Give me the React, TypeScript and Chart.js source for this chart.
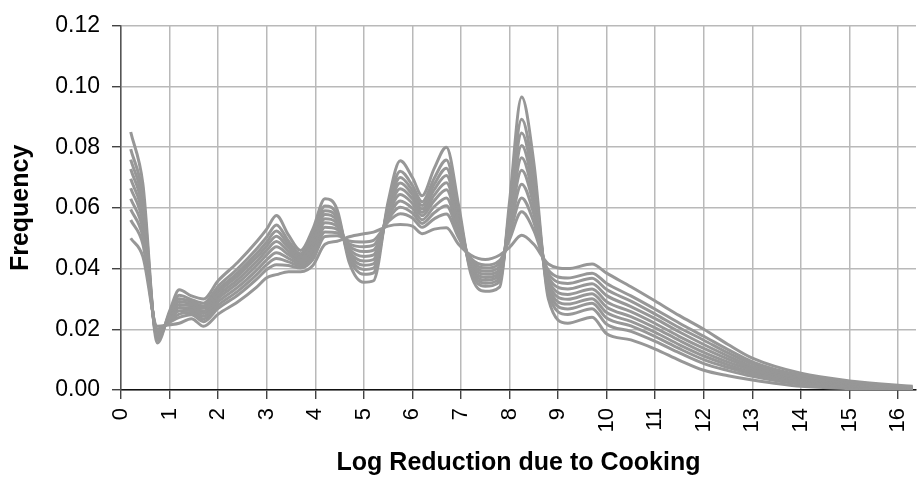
import React, { useEffect, useRef } from 'react';
import { Chart, registerables } from 'chart.js';

Chart.register(...registerables);

// Log reduction values (x positions of the sampled points)
const LOG_REDUCTION = [
  0.2, 0.45, 0.75, 1.0, 1.2, 1.45, 1.7, 2.0, 2.4, 2.8,
  3.0, 3.2, 3.45, 3.7, 3.95, 4.2, 4.45, 4.7, 5.0, 5.2,
  5.5, 5.75, 6.0, 6.2, 6.45, 6.7, 6.95, 7.2, 7.5, 7.8,
  8.0, 8.25, 8.5, 8.8, 9.2, 9.7, 10.0, 10.5, 11.0, 11.5,
  12.0, 12.5, 13.0, 14.0, 15.0, 16.3,
];

// Frequency of each simulation run
const RUN_01 = [
  0.050, 0.044, 0.021, 0.0215, 0.022, 0.0235, 0.021, 0.025, 0.029, 0.034,
  0.037, 0.038, 0.039, 0.039, 0.041, 0.048, 0.049, 0.0505, 0.0515, 0.052,
  0.054, 0.0545, 0.054, 0.0515, 0.053, 0.0535, 0.048, 0.0445, 0.043, 0.0445,
  0.047, 0.051, 0.048, 0.0415, 0.040, 0.0415, 0.0385, 0.034, 0.0293, 0.0245,
  0.020, 0.015, 0.0105, 0.0055, 0.003, 0.0012,
];
const RUN_02 = [
  0.0560, 0.0481, 0.0201, 0.0223, 0.0239, 0.0248, 0.0225, 0.0269, 0.0312, 0.0366,
  0.0397, 0.0413, 0.0410, 0.0402, 0.0430, 0.0506, 0.0508, 0.0491, 0.0488, 0.0493,
  0.0554, 0.0581, 0.0567, 0.0536, 0.0564, 0.0580, 0.0502, 0.0435, 0.0412, 0.0427,
  0.0496, 0.0587, 0.0526, 0.0395, 0.0369, 0.0385, 0.0351, 0.0310, 0.0266, 0.0220,
  0.0177, 0.0133, 0.0093, 0.0048, 0.0026, 0.0010,
];
const RUN_03 = [
  0.0595, 0.0505, 0.0195, 0.0227, 0.0250, 0.0255, 0.0234, 0.0280, 0.0325, 0.0381,
  0.0413, 0.0433, 0.0422, 0.0409, 0.0442, 0.0521, 0.0518, 0.0482, 0.0472, 0.0477,
  0.0562, 0.0602, 0.0583, 0.0549, 0.0584, 0.0607, 0.0515, 0.0429, 0.0402, 0.0417,
  0.0511, 0.0633, 0.0553, 0.0384, 0.0351, 0.0368, 0.0331, 0.0293, 0.0250, 0.0205,
  0.0164, 0.0122, 0.0086, 0.0043, 0.0023, 0.0009,
];
const RUN_04 = [
  0.0630, 0.0529, 0.0190, 0.0232, 0.0261, 0.0263, 0.0243, 0.0291, 0.0338, 0.0396,
  0.0429, 0.0452, 0.0434, 0.0416, 0.0454, 0.0536, 0.0529, 0.0474, 0.0456, 0.0461,
  0.0570, 0.0623, 0.0599, 0.0561, 0.0604, 0.0633, 0.0528, 0.0423, 0.0391, 0.0406,
  0.0526, 0.0678, 0.0580, 0.0372, 0.0333, 0.0350, 0.0311, 0.0275, 0.0235, 0.0191,
  0.0150, 0.0112, 0.0078, 0.0039, 0.0021, 0.0008,
];
const RUN_05 = [
  0.0665, 0.0553, 0.0184, 0.0236, 0.0272, 0.0270, 0.0252, 0.0302, 0.0351, 0.0411,
  0.0445, 0.0472, 0.0446, 0.0423, 0.0466, 0.0551, 0.0539, 0.0465, 0.0440, 0.0445,
  0.0578, 0.0644, 0.0615, 0.0574, 0.0624, 0.0660, 0.0541, 0.0417, 0.0381, 0.0396,
  0.0541, 0.0724, 0.0607, 0.0361, 0.0315, 0.0333, 0.0291, 0.0258, 0.0219, 0.0176,
  0.0137, 0.0102, 0.0071, 0.0035, 0.0018, 0.0007,
];
const RUN_06 = [
  0.0696, 0.0574, 0.0179, 0.0240, 0.0282, 0.0277, 0.0260, 0.0312, 0.0363, 0.0424,
  0.0460, 0.0489, 0.0457, 0.0429, 0.0477, 0.0564, 0.0549, 0.0457, 0.0425, 0.0430,
  0.0585, 0.0663, 0.0630, 0.0585, 0.0642, 0.0683, 0.0553, 0.0411, 0.0371, 0.0386,
  0.0554, 0.0765, 0.0631, 0.0351, 0.0299, 0.0317, 0.0273, 0.0242, 0.0205, 0.0163,
  0.0124, 0.0092, 0.0065, 0.0031, 0.0016, 0.0006,
];
const RUN_07 = [
  0.0728, 0.0596, 0.0174, 0.0244, 0.0292, 0.0284, 0.0269, 0.0322, 0.0375, 0.0438,
  0.0474, 0.0507, 0.0468, 0.0436, 0.0488, 0.0578, 0.0558, 0.0450, 0.0411, 0.0416,
  0.0592, 0.0682, 0.0644, 0.0596, 0.0660, 0.0707, 0.0565, 0.0406, 0.0362, 0.0377,
  0.0568, 0.0806, 0.0656, 0.0340, 0.0283, 0.0301, 0.0255, 0.0226, 0.0190, 0.0149,
  0.0112, 0.0083, 0.0058, 0.0027, 0.0014, 0.0006,
];
const RUN_08 = [
  0.0759, 0.0618, 0.0169, 0.0248, 0.0301, 0.0291, 0.0277, 0.0331, 0.0386, 0.0451,
  0.0488, 0.0524, 0.0479, 0.0442, 0.0499, 0.0591, 0.0568, 0.0442, 0.0397, 0.0402,
  0.0599, 0.0700, 0.0658, 0.0608, 0.0678, 0.0731, 0.0576, 0.0401, 0.0352, 0.0367,
  0.0581, 0.0847, 0.0680, 0.0330, 0.0267, 0.0286, 0.0237, 0.0211, 0.0176, 0.0136,
  0.0100, 0.0074, 0.0052, 0.0023, 0.0012, 0.0005,
];
const RUN_09 = [
  0.0794, 0.0642, 0.0164, 0.0253, 0.0312, 0.0298, 0.0286, 0.0342, 0.0399, 0.0466,
  0.0504, 0.0544, 0.0491, 0.0449, 0.0511, 0.0606, 0.0578, 0.0434, 0.0381, 0.0386,
  0.0607, 0.0721, 0.0674, 0.0620, 0.0698, 0.0758, 0.0589, 0.0395, 0.0342, 0.0357,
  0.0596, 0.0892, 0.0707, 0.0318, 0.0249, 0.0268, 0.0217, 0.0193, 0.0160, 0.0122,
  0.0087, 0.0064, 0.0045, 0.0019, 0.0009, 0.0004,
];
const RUN_10 = [
  0.085, 0.068, 0.0155, 0.026, 0.033, 0.031, 0.030, 0.036, 0.042, 0.049,
  0.053, 0.0575, 0.051, 0.046, 0.053, 0.063, 0.0595, 0.042, 0.0355, 0.036,
  0.062, 0.0755, 0.070, 0.064, 0.073, 0.080, 0.061, 0.0385, 0.0325, 0.034,
  0.062, 0.0965, 0.075, 0.030, 0.022, 0.024, 0.0185, 0.0165, 0.0135, 0.0098,
  0.0065, 0.0047, 0.0033, 0.0012, 0.0005, 0.0002,
];

const RUNS = [RUN_01, RUN_02, RUN_03, RUN_04, RUN_05, RUN_06, RUN_07, RUN_08, RUN_09, RUN_10];

const X_TITLE = 'Log Reduction due to Cooking';
const Y_TITLE = 'Frequency';
const X_MIN = 0;
const X_MAX = 16.37;
const Y_MIN = 0;
const Y_MAX = 0.12;
const Y_STEP = 0.02;

const FONT = 'Liberation Sans, Arial, Helvetica, sans-serif';

export default function App() {
  const ref = useRef<HTMLCanvasElement | null>(null);

  useEffect(() => {
    if (!ref.current) return;
    const chart = new Chart(ref.current, {
      type: 'line',
      data: {
        datasets: RUNS.map((run, k) => ({
          label: `Run ${k + 1}`,
          data: LOG_REDUCTION.map((x, i) => ({ x, y: run[i] })),
          borderColor: '#979797',
          borderWidth: 3,
          pointRadius: 0,
          fill: false,
          cubicInterpolationMode: 'monotone' as const,
        })),
      },
      options: {
        responsive: false,
        animation: false,
        layout: { padding: { top: 21, right: 1, left: 0, bottom: 0 } },
        plugins: {
          legend: { display: false },
          tooltip: { enabled: false },
        },
        scales: {
          x: {
            type: 'linear',
            min: X_MIN,
            max: X_MAX,
            afterFit: (s: any) => {
              s.height = 89;
              s.paddingLeft = 0;
              s.paddingRight = 0;
            },
            ticks: {
              stepSize: 1,
              includeBounds: false,
              autoSkip: false,
              minRotation: 90,
              maxRotation: 90,
              padding: 9,
              color: '#000',
              font: { family: FONT, size: 22 },
              callback: (v: any) => String(v),
            },
            grid: {
              color: '#b9b9b9',
              lineWidth: 1.5,
              tickLength: 9,
              tickColor: '#222',
              tickWidth: 1.2,
            },
            border: { color: '#111', width: 1.5 },
            title: {
              display: true,
              text: X_TITLE,
              color: '#000',
              font: { family: FONT, size: 25, weight: 'bold' },
              padding: { top: 0, bottom: 1 },
            },
          },
          y: {
            type: 'linear',
            min: Y_MIN,
            max: Y_MAX,
            afterFit: (s: any) => { s.width = 121; },
            ticks: {
              stepSize: Y_STEP,
              padding: 12,
              color: '#000',
              font: { family: FONT, size: 23 },
              callback: (v: any) => Number(v).toFixed(2),
            },
            grid: {
              color: '#b9b9b9',
              lineWidth: 1.5,
              tickLength: 9,
              tickColor: '#222',
              tickWidth: 1.2,
            },
            border: { color: '#555', width: 1.5 },
            title: {
              display: true,
              text: Y_TITLE,
              color: '#000',
              font: { family: FONT, size: 25, weight: 'bold' },
              padding: { top: 6, bottom: 0 },
            },
          },
        },
      },
    });
    return () => chart.destroy();
  }, []);

  return (
    <div style={{ position: 'absolute', left: 0, top: 0, width: 917, height: 479, background: '#fff' }}>
      <canvas ref={ref} width={917} height={479} />
    </div>
  );
}
